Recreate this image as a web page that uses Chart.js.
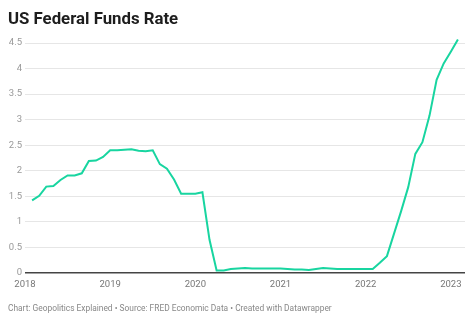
<!DOCTYPE html>
<html>
<head>
<meta charset="utf-8">
<script src="https://cdn.jsdelivr.net/npm/chart.js@4/dist/chart.umd.min.js"></script>
<style>
  body { margin: 0; background: #fff; font-family: Roboto, "Noto Sans", sans-serif; }
  #wrap { position: relative; width: 474px; height: 321px; overflow: hidden; }
  #title { position: absolute; left: 8px; top: 8px; font-size: 16.8px; line-height: 20px; font-weight: 700; color: #1d1d1d; white-space: nowrap; }
  #footer { position: absolute; left: 8px; top: 303px; font-size: 8.4px; line-height: 10px; color: #888; white-space: nowrap; }
  canvas { position: absolute; left: 0; top: 0; }
</style>
</head>
<body>
<div id="wrap">
  <canvas id="chart" width="474" height="321"></canvas>
  <div id="title">US Federal Funds Rate</div>
  <div id="footer">Chart: Geopolitics Explained • Source: FRED Economic Data • Created with Datawrapper</div>
</div>
<script>
// Monthly effective federal funds rate (%), Feb 2018 - Feb 2023
var months = [
  '2018-02','2018-03','2018-04','2018-05','2018-06','2018-07','2018-08','2018-09','2018-10','2018-11','2018-12',
  '2019-01','2019-02','2019-03','2019-04','2019-05','2019-06','2019-07','2019-08','2019-09','2019-10','2019-11','2019-12',
  '2020-01','2020-02','2020-03','2020-04','2020-05','2020-06','2020-07','2020-08','2020-09','2020-10','2020-11','2020-12',
  '2021-01','2021-02','2021-03','2021-04','2021-05','2021-06','2021-07','2021-08','2021-09','2021-10','2021-11','2021-12',
  '2022-01','2022-02','2022-03','2022-04','2022-05','2022-06','2022-07','2022-08','2022-09','2022-10','2022-11','2022-12',
  '2023-01','2023-02'
];
var rates = [
  1.42, 1.51, 1.69, 1.70, 1.82, 1.91, 1.91, 1.95, 2.19, 2.20, 2.27,
  2.40, 2.40, 2.41, 2.42, 2.39, 2.38, 2.40, 2.13, 2.04, 1.83, 1.55, 1.55,
  1.55, 1.58, 0.65, 0.05, 0.05, 0.08, 0.09, 0.10, 0.09, 0.09, 0.09, 0.09,
  0.09, 0.08, 0.07, 0.07, 0.06, 0.08, 0.10, 0.09, 0.08, 0.08, 0.08, 0.08,
  0.08, 0.08, 0.20, 0.33, 0.77, 1.21, 1.68, 2.33, 2.56, 3.08, 3.78, 4.10,
  4.33, 4.57
];
var tickYears = [2018, 2019, 2020, 2021, 2022, 2023];
var yTicks = [0, 0.5, 1, 1.5, 2, 2.5, 3, 3.5, 4, 4.5];

// turn 'YYYY-MM' into a decimal year so the linear x scale can place it
function toYear(m) {
  var parts = m.split('-');
  return Number(parts[0]) + (Number(parts[1]) - 1) / 12;
}
var points = months.map((m, i) => ({ x: toYear(m), y: rates[i] }));

var canvas = document.getElementById('chart');
var chartObj = new Chart(canvas, {
  type: 'line',
  data: {
    datasets: [{
      data: points,
      borderColor: '#18d5a0',
      borderWidth: 2,
      pointRadius: 0,
      tension: 0,
      clip: false
    }]
  },
  options: {
    responsive: false,
    devicePixelRatio: 1,
    animation: false,
    layout: { padding: { top: 43, right: 9, bottom: 29, left: 0 } },
    plugins: { legend: { display: false }, tooltip: { enabled: false } },
    scales: {
      x: {
        type: 'linear',
        min: 2018,
        max: 2023 + 2 / 12,
        afterBuildTicks: (scale) => { scale.ticks = tickYears.map(v => ({ value: v })); },
        afterFit: (scale) => { scale.height = 19; },
        grid: { display: false, drawTicks: false },
        border: { display: false },
        ticks: {
          autoSkip: false,
          maxRotation: 0,
          padding: 6,
          color: '#777',
          font: { family: 'Roboto', size: 9.5 },
          callback: (v) => String(v)
        }
      },
      y: {
        min: 0,
        max: 4.5,
        afterBuildTicks: (scale) => { scale.ticks = yTicks.map(v => ({ value: v })); },
        afterFit: (scale) => { scale.width = 25; },
        grid: {
          drawTicks: false,
          color: (ctx) => ctx.tick && ctx.tick.value === 0 ? '#444' : '#e6e6e6',
          lineWidth: (ctx) => ctx.tick && ctx.tick.value === 0 ? 1.5 : 1
        },
        border: { display: false },
        ticks: {
          padding: 3,
          color: '#999',
          font: { family: 'Roboto', size: 9.5 },
          callback: (v) => String(v)
        }
      }
    }
  }
});
</script>
</body>
</html>
